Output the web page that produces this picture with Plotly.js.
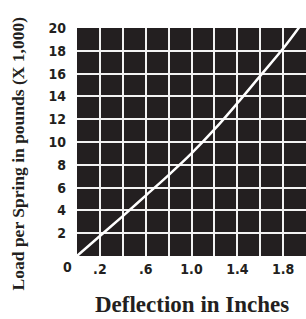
<!DOCTYPE html>
<html>
<head>
<meta charset="utf-8">
<script src="https://cdn.plot.ly/plotly-3.0.1.min.js"></script>
<style>html,body{margin:0;padding:0;background:#fff;}#chart{width:306px;height:319px;}</style>
</head>
<body>
<div id="chart"></div>
<script>
// Deflection (inches) vs load per spring (x 1,000 lb)
const deflection = [0, 0.2, 0.4, 0.6, 0.8, 1.0, 1.2, 1.4, 1.6, 1.8, 1.95];
const load = [0, 1.75, 3.5, 5.3, 7.1, 9.0, 11.1, 13.4, 15.8, 18.2, 20.2];

const xTickVals = [0.2, 0.4, 0.6, 0.8, 1.0, 1.2, 1.4, 1.6, 1.8];
const xTickText = ['.2', '', '.6', '', '1.0', '', '1.4', '', '1.8'];
const yTickVals = [2, 4, 6, 8, 10, 12, 14, 16, 18, 20];
const yTickText = ['2', '4', '6', '8', '10', '12', '14', '16', '18', '20'];
const originLabel = '0';
const xTitle = 'Deflection in Inches';
const yTitle = 'Load per Spring in pounds (X 1,000)';

const tickFont = {family: '"Liberation Sans Narrow", "DejaVu Sans Condensed", Arial', size: 14, color: '#231f20', weight: 'bold'};
const titleFont = {family: '"Liberation Serif", "Times New Roman", serif', color: '#231f20', weight: 'bold'};

const trace = {
  x: deflection, y: load, type: 'scatter', mode: 'lines',
  line: {color: '#ffffff', width: 2.5, shape: 'spline', smoothing: 1},
  hoverinfo: 'skip'
};

const layout = {
  width: 306, height: 319,
  margin: {l: 77, r: 0, t: 28, b: 63},
  paper_bgcolor: '#ffffff',
  plot_bgcolor: '#231f20',
  showlegend: false,
  xaxis: {
    range: [0, 2.0], tickmode: 'array', tickvals: xTickVals, ticktext: xTickText,
    showgrid: true, gridcolor: '#f2f2f2', gridwidth: 2, zeroline: false, showline: false,
    ticks: '', ticklabelstandoff: 3, tickfont: tickFont, fixedrange: true
  },
  yaxis: {
    range: [0, 20], tickmode: 'array', tickvals: yTickVals, ticktext: yTickText,
    showgrid: true, gridcolor: '#f2f2f2', gridwidth: 2, zeroline: false, showline: false,
    ticks: '', ticklabelstandoff: 10, tickfont: tickFont, fixedrange: true
  },
  annotations: [
    {text: originLabel, xref: 'paper', yref: 'paper', x: 0, y: 0, xshift: -10, yshift: -11,
     showarrow: false, font: tickFont, xanchor: 'center', yanchor: 'middle'},
    {text: xTitle, xref: 'paper', yref: 'paper', x: 0.5, y: 0, yshift: -48,
     showarrow: false, font: Object.assign({size: 23}, titleFont), xanchor: 'center', yanchor: 'middle'},
    {text: yTitle, xref: 'paper', yref: 'paper', x: 0, y: 0.45, xshift: -59,
     showarrow: false, textangle: -90, font: Object.assign({size: 17.5}, titleFont), xanchor: 'center', yanchor: 'middle'}
  ]
};

Plotly.newPlot('chart', [trace], layout, {staticPlot: true, displayModeBar: false});
</script>
</body>
</html>
